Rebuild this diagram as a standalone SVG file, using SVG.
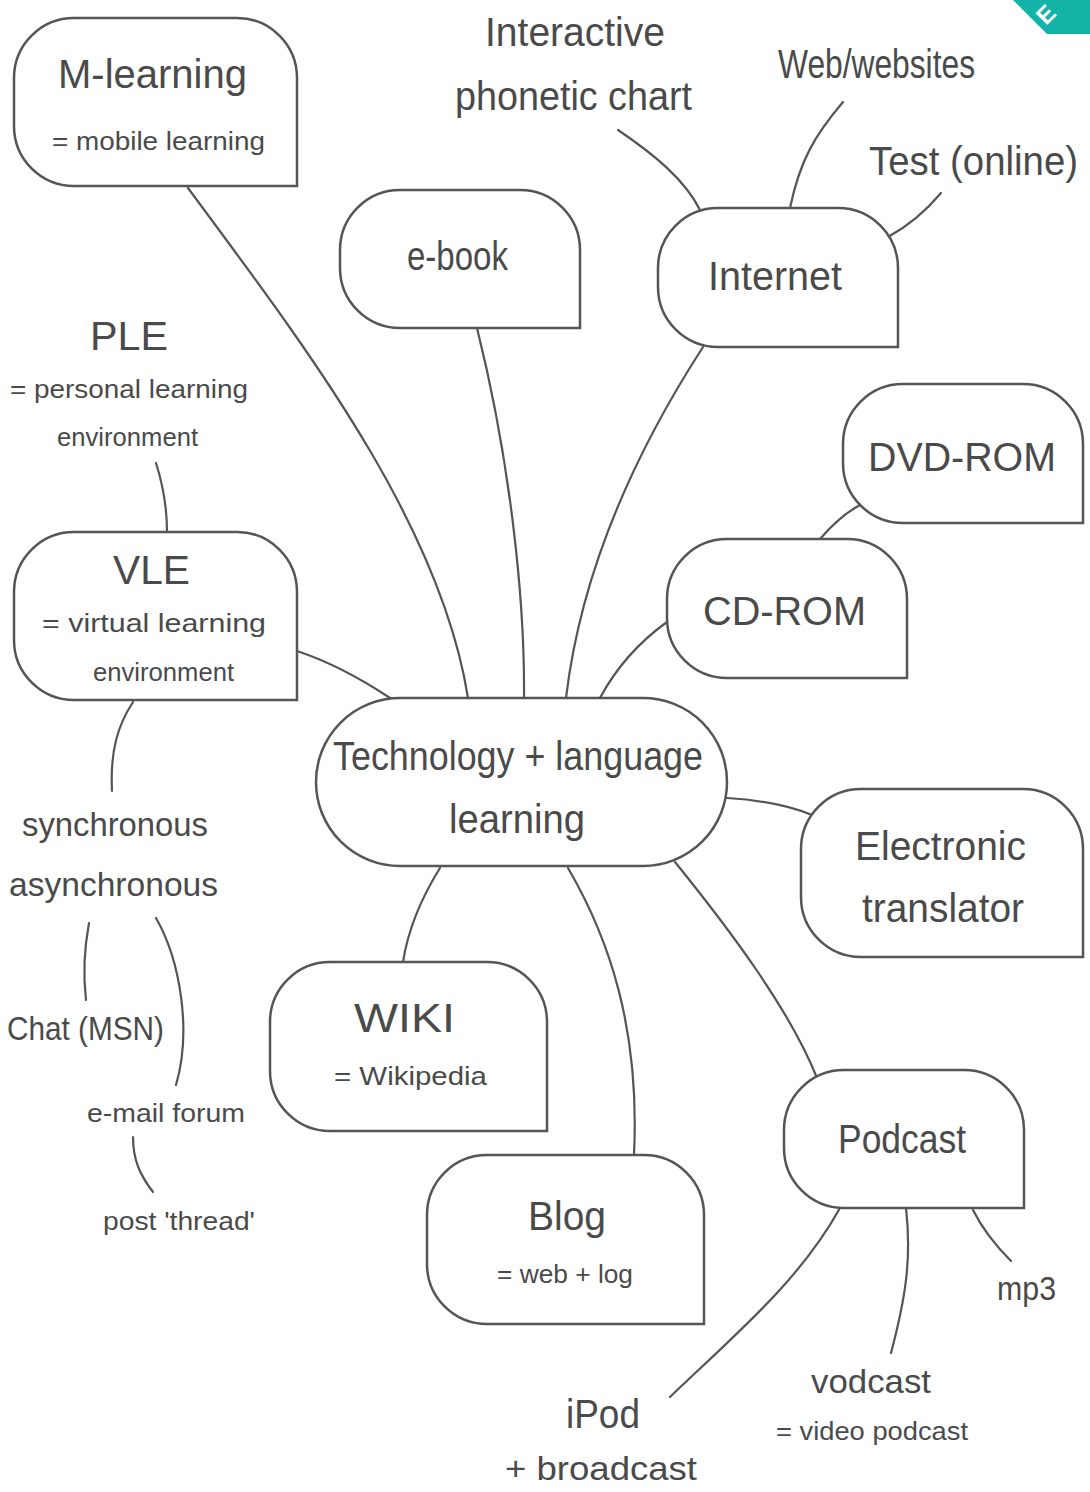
<svg xmlns="http://www.w3.org/2000/svg" width="1090" height="1492" viewBox="0 0 1090 1492">
<style>
.n{fill:#fff;stroke:#555;stroke-width:2.5}
.c{fill:none;stroke:#555;stroke-width:2.2;stroke-linecap:round}
text{font-family:"Liberation Sans Narrow","Liberation Sans","DejaVu Sans",sans-serif;fill:#4a4a4a}
.big{font-size:40px}
.mid{font-size:34px}
.sm{font-size:26px}
</style>
<rect width="1090" height="1492" fill="#fff"/>
<g id="ribbon">
<polygon points="1013,0 1047,34 1090,34 1090,0" fill="#14b3a8"/>
<text x="1046" y="26" transform="rotate(-45 1046 26)" style="font-size:24px;font-weight:bold;fill:#fff;font-family:'Liberation Sans',sans-serif">E</text>
</g>
<g id="connectors">
<path class="c" d="M188,188 C300,340 440,520 468,698"/>
<path class="c" d="M477,328 C510,460 525,600 524,698"/>
<path class="c" d="M703,347 C630,460 580,580 566,698"/>
<path class="c" d="M667,622 C635,645 615,670 600,698"/>
<path class="c" d="M820,539 C832,525 845,513 860,505"/>
<path class="c" d="M297,651 C330,662 360,678 390,698"/>
<path class="c" d="M727,798 C760,800 790,806 812,815"/>
<path class="c" d="M440,868 C420,900 408,930 403,962"/>
<path class="c" d="M568,868 C610,940 640,1030 634,1155"/>
<path class="c" d="M675,862 C730,930 790,1010 817,1078"/>
<path class="c" d="M840,1208 C800,1280 740,1330 670,1397"/>
<path class="c" d="M906,1208 C912,1260 905,1300 891,1353"/>
<path class="c" d="M973,1210 C983,1230 995,1245 1011,1261"/>
<path class="c" d="M618,130 C655,155 685,180 700,210"/>
<path class="c" d="M790,208 C800,160 815,135 843,102"/>
<path class="c" d="M888,237 C910,225 925,212 941,193"/>
<path class="c" d="M156,463 C163,485 167,505 167,532"/>
<path class="c" d="M133,702 C118,725 110,750 112,791"/>
<path class="c" d="M89,923 C84,950 83,975 86,1000"/>
<path class="c" d="M156,918 C180,960 192,1030 176,1085"/>
<path class="c" d="M133,1137 C133,1160 140,1175 153,1192"/>
</g>
<g id="m-learning">
<path class="n" d="M74,18 H237 A60,60 0 0 1 297,78 V186 H74 A60,60 0 0 1 14,126 V78 A60,60 0 0 1 74,18 Z"/>
<text class="big" x="58" y="88" textLength="189" lengthAdjust="spacingAndGlyphs">M-learning</text>
<text class="sm" x="52" y="150" textLength="213" lengthAdjust="spacingAndGlyphs">= mobile learning</text>
</g>
<g id="e-book">
<path class="n" d="M400,190 H520 A60,60 0 0 1 580,250 V328 H400 A60,60 0 0 1 340,268 V250 A60,60 0 0 1 400,190 Z"/>
<text class="big" x="407" y="270" textLength="101" lengthAdjust="spacingAndGlyphs">e-book</text>
</g>
<g id="internet">
<path class="n" d="M718,208 H838 A60,60 0 0 1 898,268 V347 H718 A60,60 0 0 1 658,287 V268 A60,60 0 0 1 718,208 Z"/>
<text class="big" x="708" y="290" textLength="134" lengthAdjust="spacingAndGlyphs">Internet</text>
</g>
<g id="phonetic-chart">
<text class="big" x="485" y="46" textLength="180" lengthAdjust="spacingAndGlyphs">Interactive</text>
<text class="big" x="455" y="110" textLength="237" lengthAdjust="spacingAndGlyphs">phonetic chart</text>
</g>
<g id="web">
<text class="big" x="778" y="78" textLength="197" lengthAdjust="spacingAndGlyphs">Web/websites</text>
</g>
<g id="test">
<text class="big" x="869" y="175" textLength="209" lengthAdjust="spacingAndGlyphs">Test (online)</text>
</g>
<g id="ple">
<text class="big" x="90" y="350" textLength="78" lengthAdjust="spacingAndGlyphs">PLE</text>
<text class="sm" x="10" y="398" textLength="238" lengthAdjust="spacingAndGlyphs">= personal learning</text>
<text class="sm" x="57" y="446" textLength="141" lengthAdjust="spacingAndGlyphs">environment</text>
</g>
<g id="vle">
<path class="n" d="M74,532 H237 A60,60 0 0 1 297,592 V700 H74 A60,60 0 0 1 14,640 V592 A60,60 0 0 1 74,532 Z"/>
<text class="big" x="113" y="584" textLength="77" lengthAdjust="spacingAndGlyphs">VLE</text>
<text class="sm" x="42" y="632" textLength="224" lengthAdjust="spacingAndGlyphs">= virtual learning</text>
<text class="sm" x="93" y="681" textLength="141" lengthAdjust="spacingAndGlyphs">environment</text>
</g>
<g id="dvd-rom">
<path class="n" d="M903,384 H1023 A60,60 0 0 1 1083,444 V523 H903 A60,60 0 0 1 843,463 V444 A60,60 0 0 1 903,384 Z"/>
<text class="big" x="868" y="471" textLength="188" lengthAdjust="spacingAndGlyphs">DVD-ROM</text>
</g>
<g id="cd-rom">
<path class="n" d="M727,539 H847 A60,60 0 0 1 907,599 V678 H727 A60,60 0 0 1 667,618 V599 A60,60 0 0 1 727,539 Z"/>
<text class="big" x="703" y="625" textLength="163" lengthAdjust="spacingAndGlyphs">CD-ROM</text>
</g>
<g id="central">
<rect class="n" x="316" y="698" width="411" height="168" rx="84"/>
<text class="big" x="333" y="770" textLength="370" lengthAdjust="spacingAndGlyphs">Technology + language</text>
<text class="big" x="449" y="833" textLength="136" lengthAdjust="spacingAndGlyphs">learning</text>
</g>
<g id="electronic-translator">
<path class="n" d="M861,789 H1023 A60,60 0 0 1 1083,849 V957 H861 A60,60 0 0 1 801,897 V849 A60,60 0 0 1 861,789 Z"/>
<text class="big" x="855" y="860" textLength="171" lengthAdjust="spacingAndGlyphs">Electronic</text>
<text class="big" x="862" y="922" textLength="162" lengthAdjust="spacingAndGlyphs">translator</text>
</g>
<g id="sync">
<text class="mid" x="22" y="836" textLength="186" lengthAdjust="spacingAndGlyphs">synchronous</text>
<text class="mid" x="9" y="896" textLength="209" lengthAdjust="spacingAndGlyphs">asynchronous</text>
</g>
<g id="chat">
<text class="mid" x="7" y="1040" textLength="157" lengthAdjust="spacingAndGlyphs">Chat (MSN)</text>
</g>
<g id="email-forum">
<text class="sm" x="87" y="1122" textLength="158" lengthAdjust="spacingAndGlyphs">e-mail forum</text>
</g>
<g id="post-thread">
<text class="sm" x="103" y="1230" textLength="152" lengthAdjust="spacingAndGlyphs">post 'thread'</text>
</g>
<g id="wiki">
<path class="n" d="M330,962 H487 A60,60 0 0 1 547,1022 V1131 H330 A60,60 0 0 1 270,1071 V1022 A60,60 0 0 1 330,962 Z"/>
<text class="big" x="354" y="1032" textLength="101" lengthAdjust="spacingAndGlyphs">WIKI</text>
<text class="sm" x="334" y="1085" textLength="153" lengthAdjust="spacingAndGlyphs">= Wikipedia</text>
</g>
<g id="blog">
<path class="n" d="M487,1155 H644 A60,60 0 0 1 704,1215 V1324 H487 A60,60 0 0 1 427,1264 V1215 A60,60 0 0 1 487,1155 Z"/>
<text class="big" x="528" y="1230" textLength="78" lengthAdjust="spacingAndGlyphs">Blog</text>
<text class="sm" x="497" y="1283" textLength="136" lengthAdjust="spacingAndGlyphs">= web + log</text>
</g>
<g id="podcast">
<path class="n" d="M844,1070 H964 A60,60 0 0 1 1024,1130 V1208 H844 A60,60 0 0 1 784,1148 V1130 A60,60 0 0 1 844,1070 Z"/>
<text class="big" x="838" y="1153" textLength="128" lengthAdjust="spacingAndGlyphs">Podcast</text>
</g>
<g id="mp3">
<text class="mid" x="997" y="1300" textLength="59" lengthAdjust="spacingAndGlyphs">mp3</text>
</g>
<g id="vodcast">
<text class="mid" x="811" y="1393" textLength="120" lengthAdjust="spacingAndGlyphs">vodcast</text>
<text class="sm" x="776" y="1440" textLength="192" lengthAdjust="spacingAndGlyphs">= video podcast</text>
</g>
<g id="ipod">
<text class="big" x="566" y="1428" textLength="74" lengthAdjust="spacingAndGlyphs">iPod</text>
<text class="mid" x="505" y="1480" textLength="192" lengthAdjust="spacingAndGlyphs">+ broadcast</text>
</g>
</svg>
